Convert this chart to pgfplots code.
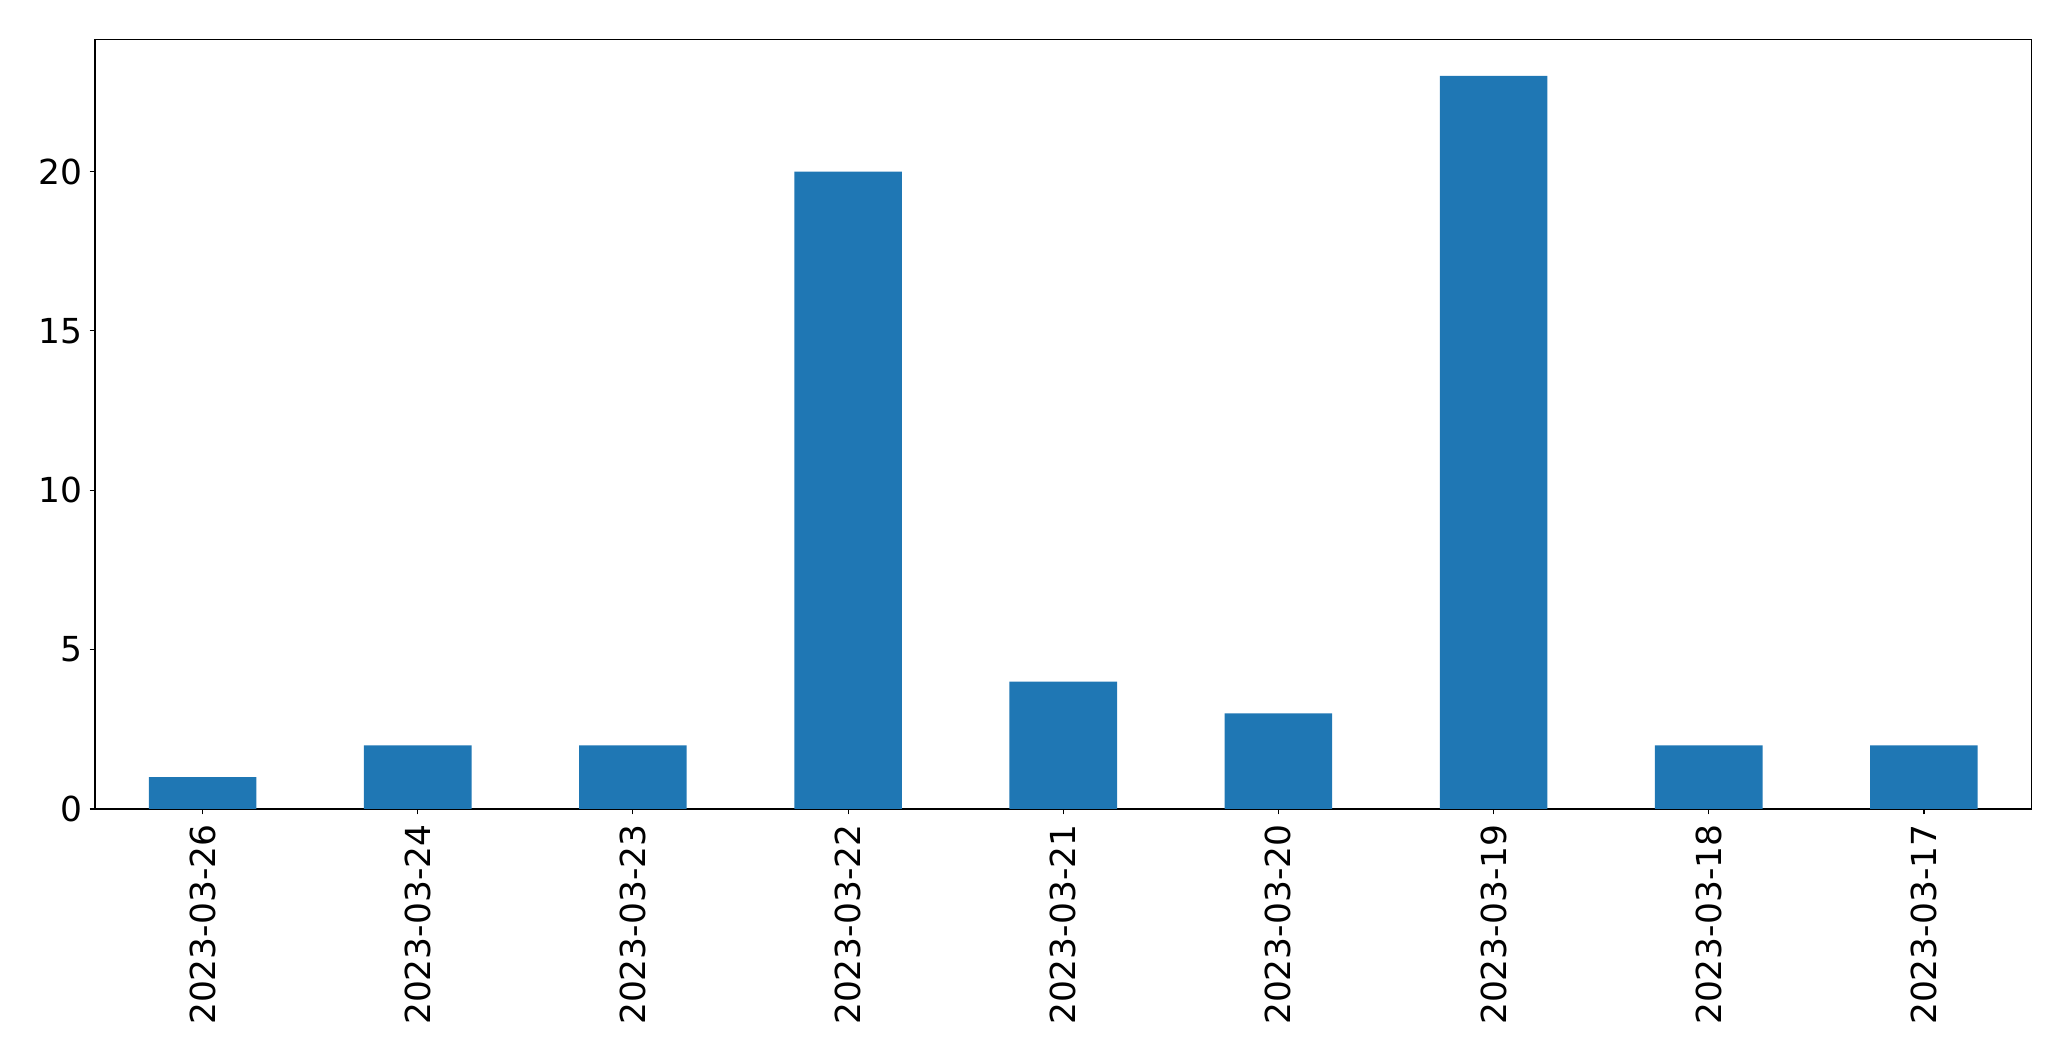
\documentclass[border=0pt]{standalone}
\usepackage{fontspec}
\setmainfont{DejaVu Sans}
\usepackage{pgfplots}
\pgfplotsset{compat=1.18}
\definecolor{barblue}{HTML}{1F77B4}
\begin{document}
\begin{tikzpicture}
\path[use as bounding box] (0,0) rectangle (1491.12bp,763.92bp);
\begin{axis}[
  scale only axis,
  width=1394.3bp, height=554.2bp,
  at={(68.4bp,181.44bp)}, anchor=south west,
  xmin=-0.5, xmax=8.5, ymin=0, ymax=24.15,
  xtick={0,1,2,3,4,5,6,7,8},
  xticklabels={2023-03-26,2023-03-24,2023-03-23,2023-03-22,2023-03-21,2023-03-20,2023-03-19,2023-03-18,2023-03-17},
  ytick={0,5,10,15,20},
  tick align=outside,
  major tick length=3.8bp,
  every tick/.style={black, line width=0.8bp},
  axis line style={line width=0.8bp},
  tick pos=left,
  /pgf/number format/assume math mode=true,
  tick label style={font=\fontsize{24.8bp}{30bp}\selectfont},
  xticklabel style={rotate=90, anchor=east, inner sep=0pt},
  yticklabel style={inner sep=0pt, xshift=-5bp},
  xticklabel shift=7.3bp,
]
\addplot[ybar, bar width=0.5, fill=barblue, draw=none] coordinates {
(0,1) (1,2) (2,2) (3,20) (4,4) (5,3) (6,23) (7,2) (8,2)
};
\end{axis}
\end{tikzpicture}
\end{document}
